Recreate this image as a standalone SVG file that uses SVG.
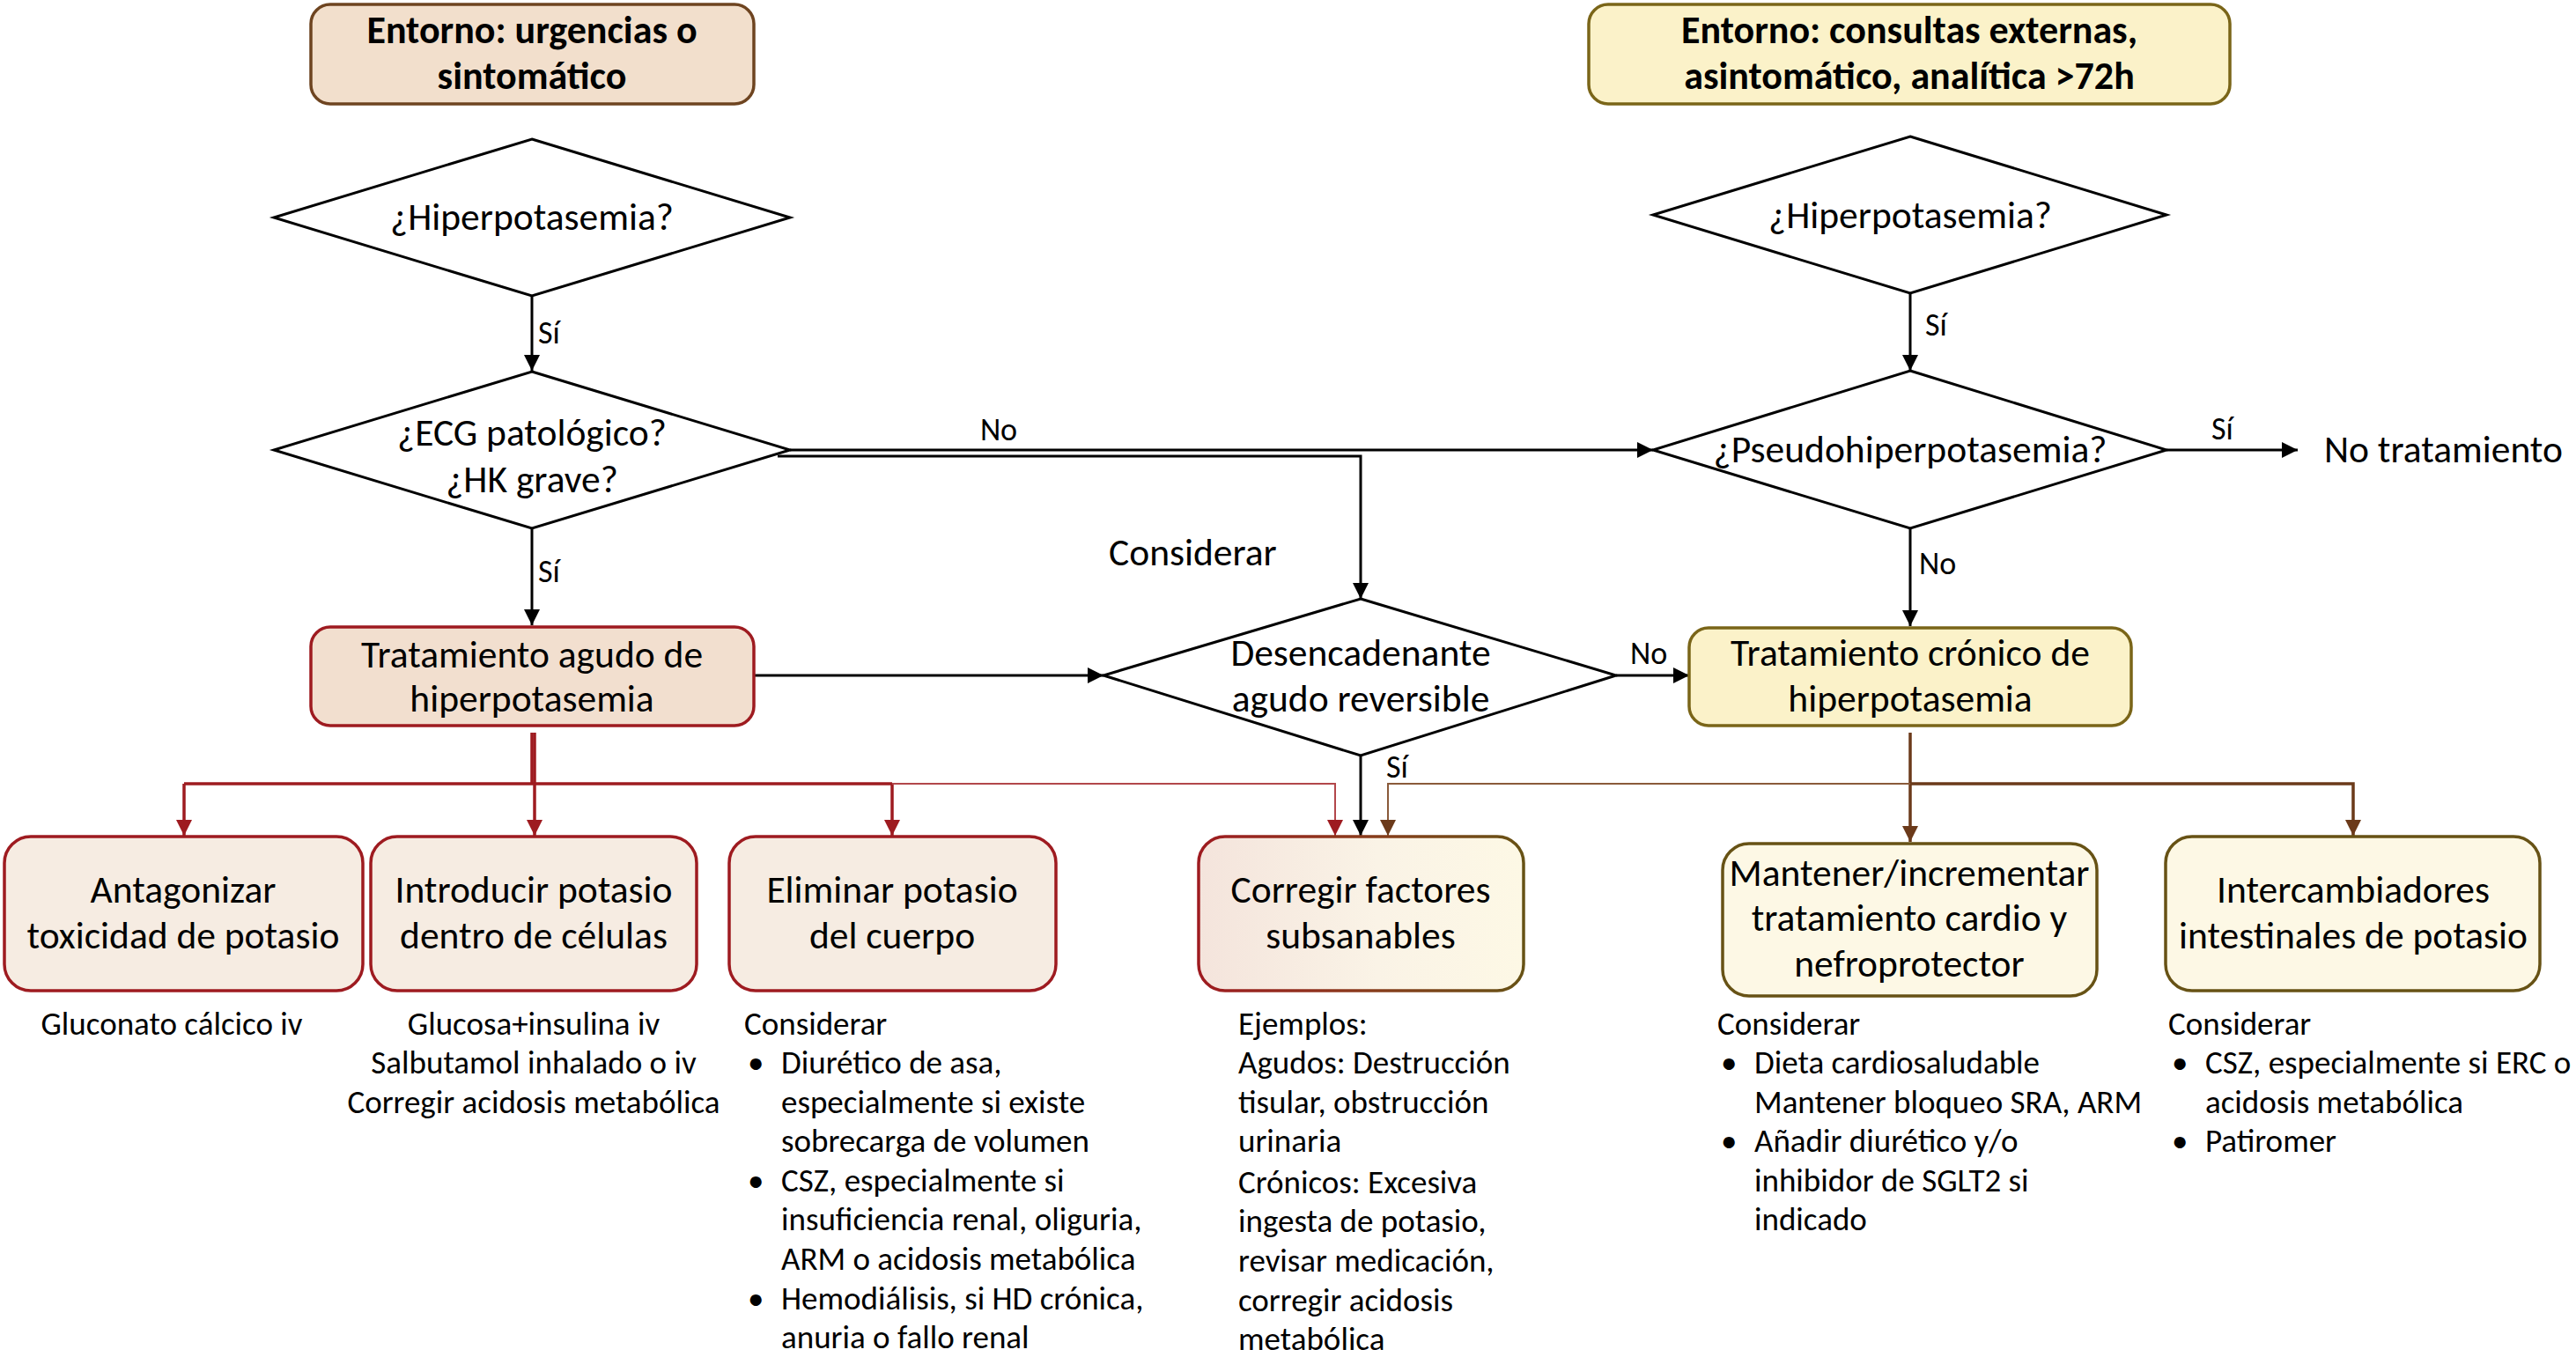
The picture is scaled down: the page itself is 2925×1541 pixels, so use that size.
<svg xmlns="http://www.w3.org/2000/svg" width="2925" height="1541" viewBox="0 0 2925 1541">
<style>
text{font-family:Carlito,Lato,"Liberation Sans",sans-serif;fill:#000}
.m{font-size:43.5px}
.b{font-size:44px;font-weight:bold}
.s{font-size:37px}
.l{font-size:36px}
.c{text-anchor:middle}
.dia{fill:#fff;stroke:#000;stroke-width:3}
.hdr1{fill:#f2dfcc;stroke:#6e4420;stroke-width:3.5}
.hdr2{fill:#fbf2c9;stroke:#7a6518;stroke-width:3.5}
.ag{fill:#f2dfcf;stroke:#9e1b20;stroke-width:3.5}
.cr{fill:#fbf2c9;stroke:#7a6518;stroke-width:3.5}
.rb{fill:#f6ece2;stroke:#9e1b20;stroke-width:3.5}
.yb{fill:#fdf8e5;stroke:#675215;stroke-width:3.5}
.k{fill:none;stroke:#000;stroke-width:3}
.r{fill:none;stroke:#9e1b20;stroke-width:3.5}
.rt{fill:none;stroke:#b2474b;stroke-width:2}
.w{fill:none;stroke:#6b3a1a;stroke-width:3.5}
.wt{fill:none;stroke:#8a5a3a;stroke-width:2}
</style>
<defs>
<marker id="ak" viewBox="0 0 18 18" refX="18" refY="9" markerWidth="18" markerHeight="18" markerUnits="userSpaceOnUse" orient="auto"><path d="M0,0 L18,9 L0,18 z" fill="#000"/></marker>
<marker id="ar" viewBox="0 0 18 18" refX="18" refY="9" markerWidth="18" markerHeight="20" markerUnits="userSpaceOnUse" orient="auto"><path d="M0,0 L18,9 L0,18 z" fill="#9e1b20"/></marker>
<marker id="aw" viewBox="0 0 18 18" refX="18" refY="9" markerWidth="18" markerHeight="20" markerUnits="userSpaceOnUse" orient="auto"><path d="M0,0 L18,9 L0,18 z" fill="#6b3a1a"/></marker>
<linearGradient id="gf" x1="0" y1="0" x2="1" y2="0"><stop offset="0" stop-color="#f4e4dc"/><stop offset="0.55" stop-color="#faf3e6"/><stop offset="1" stop-color="#fdf8e5"/></linearGradient>
<linearGradient id="gs" x1="0" y1="0" x2="1" y2="0"><stop offset="0" stop-color="#9e1b20"/><stop offset="0.5" stop-color="#8a3a1c"/><stop offset="1" stop-color="#675215"/></linearGradient>
</defs>

<g id="connectors">
<path class="k" d="M604,336 V421" marker-end="url(#ak)"/>
<path class="k" d="M604,600 V710" marker-end="url(#ak)"/>
<path class="k" d="M897,511 H1877" marker-end="url(#ak)"/>
<path class="k" d="M883,518 H1545 V680" marker-end="url(#ak)"/>
<path class="k" d="M856,767 H1253" marker-end="url(#ak)"/>
<path class="k" d="M1835,767 H1918" marker-end="url(#ak)"/>
<path class="k" d="M2169,333 V421" marker-end="url(#ak)"/>
<path class="k" d="M2460,511 H2609" marker-end="url(#ak)"/>
<path class="k" d="M2169,600 V711" marker-end="url(#ak)"/>
<path class="k" d="M1545,858 V949" marker-end="url(#ak)"/>
<path class="r" d="M604,832 V890" stroke-width="2"/>
<path class="r" d="M607,832 V949" marker-end="url(#ar)"/>
<path class="r" d="M209,890 H1013"/>
<path class="r" d="M209,890 V949" marker-end="url(#ar)"/>
<path class="r" d="M1013,890 V949" marker-end="url(#ar)"/>
<path class="rt" d="M1013,890 H1516 V949" marker-end="url(#ar)"/>
<path class="w" d="M2169,832 V956" marker-end="url(#aw)"/>
<path class="w" d="M2169,890 H2672 V949" marker-end="url(#aw)"/>
<path class="wt" d="M2169,890 H1576 V949" marker-end="url(#aw)"/>
<text class="l" x="611" y="390">Sí</text>
<text class="l" x="611" y="661">Sí</text>
<text class="l c" x="1134" y="500">No</text>
<text class="m" x="1259" y="642">Considerar</text>
<text class="l" x="2186" y="381">Sí</text>
<text class="l" x="2511" y="499">Sí</text>
<text class="l" x="2179" y="652">No</text>
<text class="l" x="1851" y="754">No</text>
<text class="l" x="1574" y="883">Sí</text>
</g>

<g id="entorno-urgencias">
<rect class="hdr1" x="353" y="5" width="503" height="113" rx="22"/>
<text class="b c" x="604" y="49">Entorno: urgencias o</text>
<text class="b c" x="604" y="101">sintomático</text>
</g>

<g id="entorno-consultas">
<rect class="hdr2" x="1804" y="5" width="728" height="113" rx="22"/>
<text class="b c" x="2168" y="49">Entorno: consultas externas,</text>
<text class="b c" x="2168" y="101">asintomático, analítica &gt;72h</text>
</g>

<g id="hiper-1">
<polygon class="dia" points="604,158 897,247 604,336 311,247"/>
<text class="m c" x="604" y="261">¿Hiperpotasemia?</text>
</g>

<g id="ecg">
<polygon class="dia" points="604,422 897,511 604,600 311,511"/>
<text class="m c" x="604" y="506">¿ECG patológico?</text>
<text class="m c" x="604" y="559">¿HK grave?</text>
</g>

<g id="hiper-2">
<polygon class="dia" points="2169,155 2460,244 2169,333 1877,244"/>
<text class="m c" x="2169" y="259">¿Hiperpotasemia?</text>
</g>

<g id="pseudo">
<polygon class="dia" points="2169,421 2460,511 2169,600 1877,511"/>
<text class="m c" x="2169" y="525">¿Pseudohiperpotasemia?</text>
</g>

<g id="no-tratamiento">
<text class="m" x="2639" y="525">No tratamiento</text>
</g>

<g id="desencadenante">
<polygon class="dia" points="1545,680 1835,767 1545,858 1253,767"/>
<text class="m c" x="1545" y="756">Desencadenante</text>
<text class="m c" x="1545" y="808">agudo reversible</text>
</g>

<g id="tratamiento-agudo">
<rect class="ag" x="353" y="712" width="503" height="112" rx="22"/>
<text class="m c" x="604" y="758">Tratamiento agudo de</text>
<text class="m c" x="604" y="808">hiperpotasemia</text>
</g>

<g id="tratamiento-cronico">
<rect class="cr" x="1918" y="713" width="502" height="111" rx="22"/>
<text class="m c" x="2169" y="756">Tratamiento crónico de</text>
<text class="m c" x="2169" y="808">hiperpotasemia</text>
</g>

<g id="antagonizar">
<rect class="rb" x="5" y="950" width="407" height="175" rx="30"/>
<text class="m c" x="208" y="1025">Antagonizar</text>
<text class="m c" x="208" y="1077">toxicidad de potasio</text>
<text class="s c" x="195" y="1175">Gluconato cálcico iv</text>
</g>

<g id="introducir">
<rect class="rb" x="421" y="950" width="370" height="175" rx="30"/>
<text class="m c" x="606" y="1025">Introducir potasio</text>
<text class="m c" x="606" y="1077">dentro de células</text>
<text class="s c" x="606" y="1175">Glucosa+insulina iv</text>
<text class="s c" x="606" y="1219">Salbutamol inhalado o iv</text>
<text class="s c" x="606" y="1264">Corregir acidosis metabólica</text>
</g>

<g id="eliminar">
<rect class="rb" x="828" y="950" width="371" height="175" rx="30"/>
<text class="m c" x="1013" y="1025">Eliminar potasio</text>
<text class="m c" x="1013" y="1077">del cuerpo</text>
<text class="s" x="845" y="1175">Considerar</text>
<text class="s" x="849" y="1219">•</text>
<text class="s" x="887" y="1219">Diurético de asa,</text>
<text class="s" x="887" y="1264">especialmente si existe</text>
<text class="s" x="887" y="1308">sobrecarga de volumen</text>
<text class="s" x="849" y="1353">•</text>
<text class="s" x="887" y="1353">CSZ, especialmente si</text>
<text class="s" x="887" y="1397">insuficiencia renal, oliguria,</text>
<text class="s" x="887" y="1442">ARM o acidosis metabólica</text>
<text class="s" x="849" y="1487">•</text>
<text class="s" x="887" y="1487">Hemodiálisis, si HD crónica,</text>
<text class="s" x="887" y="1531">anuria o fallo renal</text>
</g>

<g id="corregir">
<rect x="1361" y="950" width="369" height="175" rx="30" fill="url(#gf)" stroke="url(#gs)" stroke-width="3.5"/>
<text class="m c" x="1545" y="1025">Corregir factores</text>
<text class="m c" x="1545" y="1077">subsanables</text>
<text class="s" x="1406" y="1175">Ejemplos:</text>
<text class="s" x="1406" y="1219">Agudos: Destrucción</text>
<text class="s" x="1406" y="1264">tisular, obstrucción</text>
<text class="s" x="1406" y="1308">urinaria</text>
<text class="s" x="1406" y="1355">Crónicos: Excesiva</text>
<text class="s" x="1406" y="1399">ingesta de potasio,</text>
<text class="s" x="1406" y="1444">revisar medicación,</text>
<text class="s" x="1406" y="1489">corregir acidosis</text>
<text class="s" x="1406" y="1533">metabólica</text>
</g>

<g id="mantener">
<rect class="yb" x="1956" y="958" width="425" height="173" rx="30"/>
<text class="m c" x="2168" y="1006">Mantener/incrementar</text>
<text class="m c" x="2168" y="1057">tratamiento cardio y</text>
<text class="m c" x="2168" y="1109">nefroprotector</text>
<text class="s" x="1950" y="1175">Considerar</text>
<text class="s" x="1954" y="1219">•</text>
<text class="s" x="1992" y="1219">Dieta cardiosaludable</text>
<text class="s" x="1992" y="1264">Mantener bloqueo SRA, ARM</text>
<text class="s" x="1954" y="1308">•</text>
<text class="s" x="1992" y="1308">Añadir diurético y/o</text>
<text class="s" x="1992" y="1353">inhibidor de SGLT2 si</text>
<text class="s" x="1992" y="1397">indicado</text>
</g>

<g id="intercambiadores">
<rect class="yb" x="2459" y="950" width="425" height="175" rx="30"/>
<text class="m c" x="2672" y="1025">Intercambiadores</text>
<text class="m c" x="2672" y="1077">intestinales de potasio</text>
<text class="s" x="2462" y="1175">Considerar</text>
<text class="s" x="2466" y="1219">•</text>
<text class="s" x="2504" y="1219">CSZ, especialmente si ERC o</text>
<text class="s" x="2504" y="1264">acidosis metabólica</text>
<text class="s" x="2466" y="1308">•</text>
<text class="s" x="2504" y="1308">Patiromer</text>
</g>
</svg>
